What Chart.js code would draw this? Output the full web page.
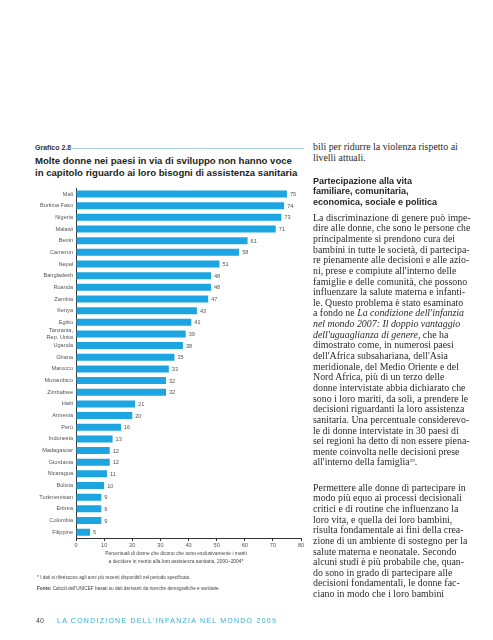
<!DOCTYPE html>
<html lang="it">
<head>
<meta charset="utf-8">
<title>Grafico 2.8</title>
<script src="https://cdn.jsdelivr.net/npm/chart.js@4.4.1/dist/chart.umd.min.js"></script>
<style>
  html, body { margin: 0; padding: 0; background: #fff; }
  body { width: 493px; height: 640px; position: relative; overflow: hidden; font-family: "Liberation Sans", Arial, sans-serif; }
  .abs { position: absolute; white-space: nowrap; }
  #fig-label { left: 35px; top: 144px; font-size: 7px; font-weight: bold; color: #333; line-height: 8px; }
  #fig-rule { position: absolute; left: 70px; top: 148px; width: 234px; height: 1px; background: #a9d6e5; }
  #fig-title { left: 35px; top: 155px; font-size: 9.6px; font-weight: bold; color: #231f20; line-height: 12px; }
  #chart-box { position: absolute; left: 0; top: 180px; width: 320px; height: 380px; }
  #axis-title { left: 96px; top: 550px; width: 160px; text-align: center; font-size: 4.9px; line-height: 7.5px; color: #444; }
  #note { left: 37px; top: 575px; font-size: 4.7px; color: #444; line-height: 6px; }
  #source { left: 37px; top: 586px; font-size: 4.7px; color: #444; line-height: 6px; }
  #page-no { left: 36px; top: 617px; font-size: 7px; color: #444; line-height: 8px; }
  #running { left: 57px; top: 617px; font-size: 7px; color: #35b0d5; letter-spacing: 1.25px; line-height: 8px; }
  .col { position: absolute; left: 313px; width: 176px; font-family: "Liberation Serif", "Times New Roman", serif; font-size: 9.9px; line-height: 10.65px; color: #2b2b2b; }
  .col div { white-space: nowrap; height: 10.65px; }
  .col .fn { font-size: 5px; line-height: 0; position: relative; top: -3.5px; }
  .head { position: absolute; left: 313px; font-size: 9px; font-weight: bold; line-height: 10.8px; color: #231f20; }
</style>
</head>
<body>

<div id="fig-label" class="abs">Grafico 2.8</div>
<div id="fig-rule"></div>
<div id="fig-title" class="abs">Molte donne nei paesi in via di sviluppo non hanno voce<br>in capitolo riguardo ai loro bisogni di assistenza sanitaria</div>

<div id="chart-box"><canvas id="chart" width="320" height="380"></canvas></div>

<div id="axis-title" class="abs">Percentuali di donne che dicono che sono esclusivamente i mariti<br>a decidere in merito alla loro assistenza sanitaria, 2000–2004*</div>
<div id="note" class="abs">* I dati si riferiscono agli anni più recenti disponibili nel periodo specificato.</div>
<div id="source" class="abs"><b>Fonte:</b> Calcoli dell'UNICEF basati su dati derivanti da ricerche demografiche e sanitarie.</div>

<div id="page-no" class="abs">40</div>
<div id="running" class="abs">LA CONDIZIONE DELL'INFANZIA NEL MONDO 2009</div>

<div class="col" style="top:142px;">
  <div>bili per ridurre la violenza rispetto ai</div>
  <div>livelli attuali.</div>
</div>

<div class="head abs" style="top:175.5px;">Partecipazione alla vita<br>familiare, comunitaria,<br>economica, sociale e politica</div>

<div class="col" style="top:212.7px;">
  <div>La discriminazione di genere può impe-</div>
  <div>dire alle donne, che sono le persone che</div>
  <div>principalmente si prendono cura dei</div>
  <div>bambini in tutte le società, di partecipa-</div>
  <div>re pienamente alle decisioni e alle azio-</div>
  <div>ni, prese e compiute all'interno delle</div>
  <div>famiglie e delle comunità, che possono</div>
  <div>influenzare la salute materna e infanti-</div>
  <div>le. Questo problema è stato esaminato</div>
  <div>a fondo ne <i>La condizione dell'infanzia</i></div>
  <div><i>nel mondo 2007: Il doppio vantaggio</i></div>
  <div><i>dell'uguaglianza di genere</i>, che ha</div>
  <div>dimostrato come, in numerosi paesi</div>
  <div>dell'Africa subsahariana, dell'Asia</div>
  <div>meridionale, del Medio Oriente e del</div>
  <div>Nord Africa, più di un terzo delle</div>
  <div>donne intervistate abbia dichiarato che</div>
  <div>sono i loro mariti, da soli, a prendere le</div>
  <div>decisioni riguardanti la loro assistenza</div>
  <div>sanitaria. Una percentuale considerevo-</div>
  <div>le di donne intervistate in 30 paesi di</div>
  <div>sei regioni ha detto di non essere piena-</div>
  <div>mente coinvolta nelle decisioni prese</div>
  <div>all'interno della famiglia<span class="fn">29</span>.</div>
</div>

<div class="col" style="top:482.7px;">
  <div>Permettere alle donne di partecipare in</div>
  <div>modo più equo ai processi decisionali</div>
  <div>critici e di routine che influenzano la</div>
  <div>loro vita, e quella dei loro bambini,</div>
  <div>risulta fondamentale ai fini della crea-</div>
  <div>zione di un ambiente di sostegno per la</div>
  <div>salute materna e neonatale. Secondo</div>
  <div>alcuni studi è più probabile che, quan-</div>
  <div>do sono in grado di partecipare alle</div>
  <div>decisioni fondamentali, le donne fac-</div>
  <div>ciano in modo che i loro bambini</div>
</div>

<script>
// countries, top to bottom
const countries = [
  "Mali", "Burkina Faso", "Nigeria", "Malawi", "Benin", "Camerun", "Nepal",
  "Bangladesh", "Ruanda", "Zambia", "Kenya", "Egitto", ["Tanzania,", "Rep. Unita"],
  "Uganda", "Ghana", "Marocco", "Mozambico", "Zimbabwe", "Haiti", "Armenia", "Perù",
  "Indonesia", "Madagascar", "Giordania", "Nicaragua", "Bolivia", "Turkmenistan",
  "Eritrea", "Colombia", "Filippine"
];

// % of women saying husbands alone decide on their health care
const womenShare = [
  75, 74, 73, 71, 61, 58, 51, 48, 48, 47, 43, 41, 39, 38, 35,
  33, 32, 32, 21, 20, 16, 13, 12, 12, 11, 10, 9, 9, 9, 5
];

const xTicks = [0, 10, 20, 30, 40, 50, 60, 70, 80];

const BAR_BLUE = "#1ca5e0";
const TEXT_GREY = "#555";
const FONT = "'Liberation Sans', Arial, sans-serif";

// numbers at the end of each bar
const valueLabels = {
  id: "valueLabels",
  afterDatasetsDraw(chart) {
    const ctx = chart.ctx;
    const meta = chart.getDatasetMeta(0);
    ctx.save();
    ctx.font = "5.6px " + FONT;
    ctx.fillStyle = TEXT_GREY;
    ctx.textAlign = "left";
    ctx.textBaseline = "middle";
    meta.data.forEach((bar, i) => {
      ctx.fillText(String(chart.data.datasets[0].data[i]), bar.x + 3, bar.y + 0.5);
    });
    ctx.restore();
  }
};

const ctx = document.getElementById("chart").getContext("2d");
new Chart(ctx, {
  type: "bar",
  data: {
    labels: countries,
    datasets: [{
      data: womenShare,
      backgroundColor: BAR_BLUE,
      borderWidth: 0,
      barPercentage: 0.6,
      categoryPercentage: 1
    }]
  },
  options: {
    indexAxis: "y",
    responsive: false,
    animation: false,
    devicePixelRatio: 1,
    layout: { padding: { top: 8.2, right: 19, bottom: 0, left: 0 } },
    plugins: {
      legend: { display: false },
      tooltip: { enabled: false }
    },
    scales: {
      y: {
        grid: { display: false, drawTicks: false },
        border: { display: true, color: "#333", width: 1 },
        ticks: {
          autoSkip: false,
          padding: 3,
          color: TEXT_GREY,
          font: { family: FONT, size: 5.6, lineHeight: 1.15 }
        },
        afterFit(scale) { scale.width = 76; }
      },
      x: {
        min: 0,
        max: 80,
        afterBuildTicks(scale) { scale.ticks = xTicks.map(v => ({ value: v })); },
        grid: { display: true, drawOnChartArea: false, drawTicks: true, tickLength: 3, color: "#333" },
        border: { display: true, color: "#333", width: 1 },
        ticks: {
          autoSkip: false,
          maxRotation: 0,
          padding: 1,
          color: TEXT_GREY,
          font: { family: FONT, size: 5.6 }
        },
        afterFit(scale) { scale.height = 22; }
      }
    }
  },
  plugins: [valueLabels]
});
</script>
</body>
</html>
